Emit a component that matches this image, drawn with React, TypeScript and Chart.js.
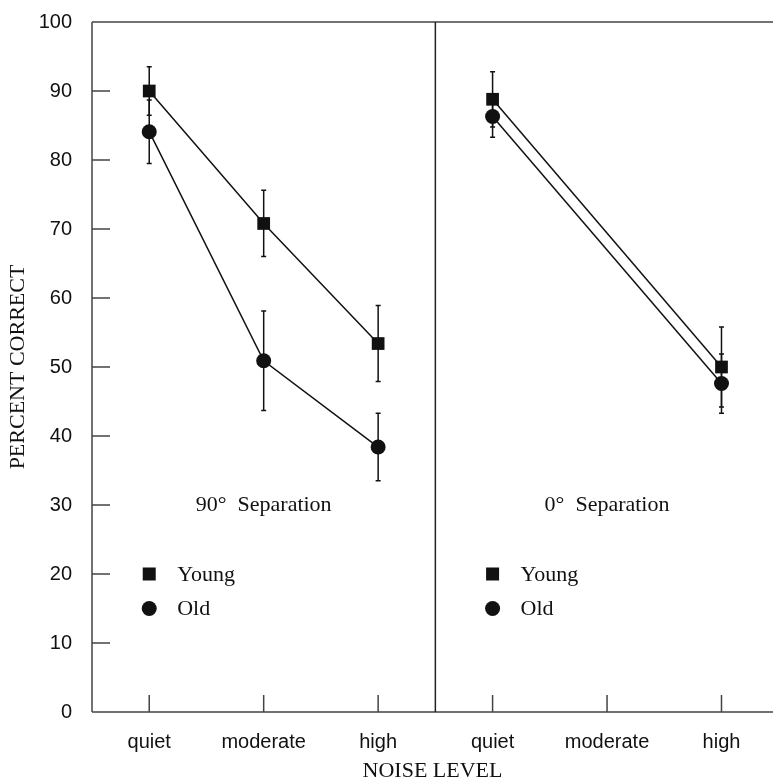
import React, { useEffect, useRef } from 'react';
import { Chart, registerables } from 'chart.js';

Chart.register(...registerables);

// ---- data ----
const noiseLevels = ['quiet', 'moderate', 'high'];
const panelLabels = ['90°  Separation', '0°  Separation'];
const seriesNames = ['Young', 'Old'];

const young90 = [90.0, 70.8, 53.4];
const young90Err = [3.5, 4.8, 5.5];
const old90 = [84.1, 50.9, 38.4];
const old90Err = [4.6, 7.2, 4.9];

const young0: (number | null)[] = [88.8, null, 50.0];
const young0Err: (number | null)[] = [4.0, null, 5.8];
const old0: (number | null)[] = [86.3, null, 47.6];
const old0Err: (number | null)[] = [3.0, null, 4.3];

const yTickValues = [0, 10, 20, 30, 40, 50, 60, 70, 80, 90, 100];

// annotation positions in data units
const panelLabelY = 30;
const legendYoungY = 20;
const legendOldY = 15;

const SANS = "'Liberation Sans', Arial, Helvetica, sans-serif";
const SERIF = "'Liberation Serif', 'Times New Roman', Times, serif";

type Pt = { x: number; y: number; err: number };

function toPoints(vals: (number | null)[], errs: (number | null)[], panel: number): Pt[] {
  const out: Pt[] = [];
  vals.forEach((v, i) => {
    if (v !== null && v !== undefined) out.push({ x: panel * 3 + i, y: v, err: (errs[i] as number) || 0 });
  });
  return out;
}

const xPositions = [0, 1, 2, 3, 4, 5];

const framePlugin = {
  id: 'frame',
  beforeDatasetsDraw(chart: any) {
    const { ctx, chartArea: a, scales } = chart;
    const x = scales.x;
    const y = scales.y;
    ctx.save();
    ctx.lineCap = 'butt';
    // frame
    ctx.strokeStyle = '#444';
    ctx.lineWidth = 1.5;
    ctx.beginPath();
    ctx.moveTo(a.left, a.top);
    ctx.lineTo(a.right, a.top);
    ctx.moveTo(a.left, a.top);
    ctx.lineTo(a.left, a.bottom);
    ctx.moveTo(a.left, a.bottom);
    ctx.lineTo(a.right, a.bottom);
    ctx.stroke();
    // ticks inward
    ctx.beginPath();
    yTickValues.filter(v => v > 0 && v < 100).forEach(v => {
      const py = y.getPixelForValue(v);
      ctx.moveTo(a.left, py);
      ctx.lineTo(a.left + 18, py);
    });
    xPositions.forEach(v => {
      const px = x.getPixelForValue(v);
      ctx.moveTo(px, a.bottom);
      ctx.lineTo(px, a.bottom - 17);
    });
    ctx.stroke();
    // divider
    ctx.strokeStyle = '#222';
    ctx.beginPath();
    const xd = x.getPixelForValue(2.5);
    ctx.moveTo(xd, a.top);
    ctx.lineTo(xd, a.bottom);
    ctx.stroke();
    // error bars
    ctx.strokeStyle = '#111';
    ctx.lineWidth = 1.5;
    chart.data.datasets.forEach((ds: any) => {
      ds.data.forEach((p: Pt) => {
        const px = x.getPixelForValue(p.x);
        const pt = y.getPixelForValue(p.y + p.err);
        const pb = y.getPixelForValue(p.y - p.err);
        ctx.beginPath();
        ctx.moveTo(px, pt);
        ctx.lineTo(px, pb);
        ctx.moveTo(px - 2.5, pt);
        ctx.lineTo(px + 2.5, pt);
        ctx.moveTo(px - 2.5, pb);
        ctx.lineTo(px + 2.5, pb);
        ctx.stroke();
      });
    });
    ctx.restore();
  },
  afterDatasetsDraw(chart: any) {
    const { ctx, scales } = chart;
    const x = scales.x;
    const y = scales.y;
    ctx.save();
    ctx.fillStyle = '#111';
    ctx.font = `22px ${SERIF}`;
    ctx.textBaseline = 'middle';
    panelLabels.forEach((lbl, p) => {
      ctx.textAlign = 'center';
      ctx.fillText(lbl, x.getPixelForValue(p * 3 + 1), y.getPixelForValue(panelLabelY));
      const lx = x.getPixelForValue(p * 3);
      const yy = y.getPixelForValue(legendYoungY);
      const yo = y.getPixelForValue(legendOldY);
      ctx.fillRect(lx - 6.5, yy - 6.5, 13, 13);
      ctx.beginPath();
      ctx.arc(lx, yo, 7.5, 0, Math.PI * 2);
      ctx.fill();
      ctx.textAlign = 'left';
      ctx.fillText(seriesNames[0], lx + 28, yy + 1);
      ctx.fillText(seriesNames[1], lx + 28, yo + 1);
    });
    ctx.restore();
  },
};

export default function App() {
  const ref = useRef<HTMLCanvasElement | null>(null);
  useEffect(() => {
    if (!ref.current) return;
    const lineStyle = {
      borderColor: '#111',
      backgroundColor: '#111',
      pointBackgroundColor: '#111',
      pointBorderColor: '#111',
      borderWidth: 1.5,
      pointBorderWidth: 0,
      showLine: true,
      fill: false,
      tension: 0,
      clip: false as any,
    };
    const chart = new Chart(ref.current, {
      type: 'line',
      data: {
        datasets: [
          { ...lineStyle, label: seriesNames[0], data: toPoints(young90, young90Err, 0) as any, pointStyle: 'rect', pointRadius: 9 },
          { ...lineStyle, label: seriesNames[1], data: toPoints(old90, old90Err, 0) as any, pointStyle: 'circle', pointRadius: 7.5 },
          { ...lineStyle, label: seriesNames[0], data: toPoints(young0, young0Err, 1) as any, pointStyle: 'rect', pointRadius: 9 },
          { ...lineStyle, label: seriesNames[1], data: toPoints(old0, old0Err, 1) as any, pointStyle: 'circle', pointRadius: 7.5 },
        ],
      },
      options: {
        animation: false,
        responsive: true,
        maintainAspectRatio: false,
        layout: { autoPadding: false, padding: { top: 22, left: 0, right: 0, bottom: 0 } },
        plugins: {
          legend: { display: false },
          tooltip: { enabled: false },
        },
        events: [],
        scales: {
          x: {
            type: 'linear',
            min: -0.5,
            max: 5.45,
            grid: { display: false, drawTicks: false },
            border: { display: false },
            afterBuildTicks: (scale: any) => {
              scale.ticks = xPositions.map(v => ({ value: v }));
            },
            afterFit: (scale: any) => {
              scale.height = 70;
              scale.paddingLeft = 0;
              scale.paddingRight = 0;
              scale.paddingTop = 0;
              scale.paddingBottom = 0;
            },
            ticks: {
              autoSkip: false,
              maxRotation: 0,
              padding: 18,
              color: '#111',
              font: { family: SANS, size: 20 },
              callback: (v: any) => noiseLevels[Math.round(Number(v)) % 3],
            },
            title: {
              display: true,
              text: 'NOISE LEVEL',
              color: '#111',
              font: { family: SERIF, size: 22, lineHeight: 1 },
              padding: { top: 0, bottom: 0 },
            },
          },
          y: {
            type: 'linear',
            min: 0,
            max: 100,
            grid: { display: false, drawTicks: false },
            border: { display: false },
            afterBuildTicks: (scale: any) => {
              scale.ticks = yTickValues.map(v => ({ value: v }));
            },
            afterFit: (scale: any) => {
              scale.width = 92;
              scale.paddingLeft = 0;
              scale.paddingRight = 0;
              scale.paddingTop = 0;
              scale.paddingBottom = 0;
            },
            ticks: {
              padding: 20,
              color: '#111',
              font: { family: SANS, size: 20 },
            },
            title: {
              display: true,
              text: 'PERCENT CORRECT',
              color: '#111',
              font: { family: SERIF, size: 22, lineHeight: 1.2 },
              padding: { top: 5, bottom: 0 },
            },
          },
        },
      },
      plugins: [framePlugin],
    });
    return () => chart.destroy();
  }, []);
  return (
    <div style={{ position: 'absolute', left: 0, top: 0, width: 773, height: 782, background: '#fff' }}>
      <canvas ref={ref} />
    </div>
  );
}
